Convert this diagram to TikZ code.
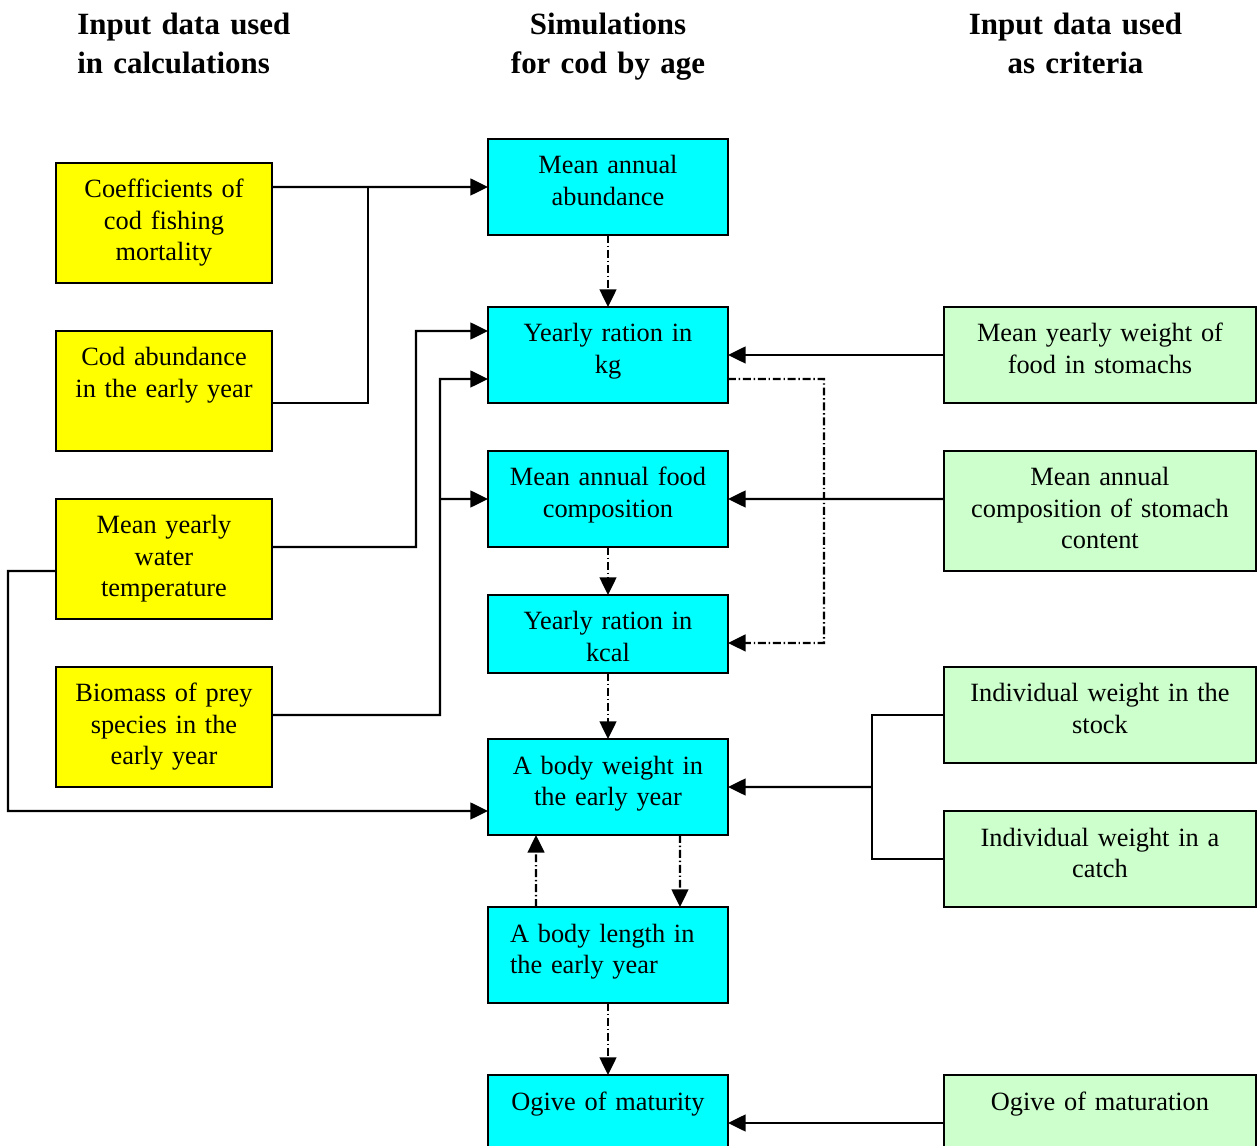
\documentclass[tikz,border=0pt]{standalone}
\usepackage{fontspec}
\setmainfont{Liberation Serif}
\usetikzlibrary{arrows.meta,calc}

\definecolor{yellowbox}{RGB}{255,255,0}
\definecolor{cyanbox}{RGB}{0,255,255}
\definecolor{greenbox}{RGB}{204,255,204}

\begin{document}
\begin{tikzpicture}[
  x=0.02cm, y=-0.02cm,
  box/.style={draw, line width=1.2pt, anchor=north, outer sep=0pt, inner ysep=0pt, inner xsep=0.1cm,
    align=center, text height=0.7cm, font=\fontsize{15}{17.8}\selectfont},
  inbox/.style={box, fill=yellowbox, text width=4.12cm, text depth=1.7cm},
  simbox/.style={box, fill=cyanbox, text width=4.6cm, text depth=1.22cm},
  critbox/.style={box, fill=greenbox, text width=6.04cm, text depth=1.22cm},
  tall/.style={text depth=1.7cm},
  low/.style={text depth=0.86cm},
  colhead/.style={font=\fontsize{17.6}{22.1}\selectfont\bfseries, inner sep=0pt,
    text height=0pt, text depth=0pt, text width=6cm},
  wire/.style={line width=1.2pt},
  arr/.style={wire, -{Triangle[length=10pt,width=9.5pt]}},
  dd/.style={arr, dash pattern=on 4.5pt off 1.6pt on 0.8pt off 1.6pt}
]
\useasboundingbox (0,0) rectangle (1258,1146);
\clip (0,0) rectangle (1258,1146);

% column headings
\node[colhead, anchor=north west, align=left] (h1) at (77,33) {Input data used\\in calculations};
\node[colhead, anchor=north, align=center] (h2) at (608,33) {Simulations\\for cod by age};
\node[colhead, anchor=north, align=center] (h3) at (1075.5,33) {Input data used\\as criteria};

% inputs for the calculations
\node[inbox] (y1) at (164,163) {Coefficients of\\cod fishing\\mortality};
\node[inbox] (y2) at (164,331) {Cod abundance\\in the early year};
\node[inbox] (y3) at (164,499) {Mean yearly\\water\\temperature};
\node[inbox] (y4) at (164,667) {Biomass of prey\\species in the\\early year};

% simulated values
\node[simbox] (c1) at (608,139) {Mean annual\\abundance};
\node[simbox] (c2) at (608,307) {Yearly ration in\\kg};
\node[simbox] (c3) at (608,451) {Mean annual food\\composition};
\node[simbox, low] (c4) at (608,595) {Yearly ration in\\kcal};
\node[simbox] (c5) at (608,739) {A body weight in\\the early year};
\node[simbox, align=left, inner xsep=0.44cm, text width=3.92cm] (c6) at (608,907) {A body length in\\the early year};
\node[simbox] (c7) at (608,1075) {Ogive of maturity};

% criteria
\node[critbox] (g1) at (1100,307) {Mean yearly weight of\\food in stomachs};
\node[critbox, tall] (g2) at (1100,451) {Mean annual\\composition of stomach\\content};
\node[critbox] (g3) at (1100,667) {Individual weight in the\\stock};
\node[critbox] (g4) at (1100,811) {Individual weight in a\\catch};
\node[critbox] (g5) at (1100,1075) {Ogive of maturation};

% bends of the connectors
\coordinate (ja) at (368,187);
\coordinate (jb) at (416,331);
\coordinate (jc) at (440,379);
\coordinate (jd) at (440,499);
\coordinate (je) at (8,811);
\coordinate (jf) at (824,643);
\coordinate (jg) at (872,787);

% inputs -> simulations
\draw[arr] ($(y1.north east)!.2!(y1.south east)$) -- (c1.west);
\draw[wire] ($(y2.north east)!.6!(y2.south east)$) -| (ja);
\draw[arr] ($(y3.north east)!.4!(y3.south east)$) -| (jb) -- ($(c2.north west)!.25!(c2.south west)$);
\draw[arr] ($(y4.north east)!.4!(y4.south east)$) -| (jc) -- ($(c2.north west)!.75!(c2.south west)$);
\draw[arr] (jd) -- (c3.west);
\draw[arr] ($(y3.north west)!.6!(y3.south west)$) -| (je) -- ($(c5.north west)!.75!(c5.south west)$);

% criteria -> simulations
\draw[arr] (g1.west) -- (c2.east);
\draw[arr] ($(g2.north west)!.4!(g2.south west)$) -- (c3.east);
\draw[wire] (g3.west) -| (jg) |- (g4.west);
\draw[arr] (jg) -- (c5.east);
\draw[arr] (g5.west) -- (c7.east);

% order of the simulation steps
\draw[dd] (c1.south) -- (c2.north);
\draw[dd] ($(c2.north east)!.75!(c2.south east)$) -| (jf) -- ($(c4.north east)!.615!(c4.south east)$);
\draw[dd] (c3.south) -- (c4.north);
\draw[dd] (c4.south) -- (c5.north);
\draw[dd] ($(c6.north west)!.2!(c6.north east)$) -- ($(c5.south west)!.2!(c5.south east)$);
\draw[dd] ($(c5.south west)!.8!(c5.south east)$) -- ($(c6.north west)!.8!(c6.north east)$);
\draw[dd] (c6.south) -- (c7.north);

\end{tikzpicture}
\end{document}
